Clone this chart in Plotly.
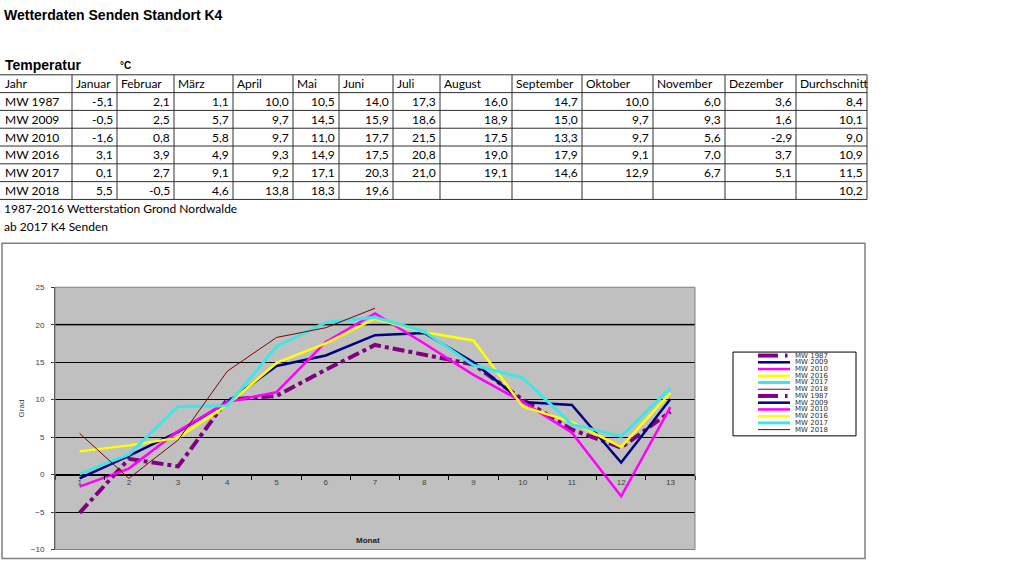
import plotly.graph_objects as go

W, H = 1024, 576

# ---------------- data ----------------
months = ["Januar", "Februar", "März", "April", "Mai", "Juni", "Juli",
          "August", "September", "Oktober", "November", "Dezember"]
header = ["Jahr"] + months + ["Durchschnitt"]
row_labels = ["MW 1987", "MW 2009", "MW 2010", "MW 2016", "MW 2017", "MW 2018"]

mw1987 = [-5.1, 2.1, 1.1, 10.0, 10.5, 14.0, 17.3, 16.0, 14.7, 10.0, 6.0, 3.6]
mw2009 = [-0.5, 2.5, 5.7, 9.7, 14.5, 15.9, 18.6, 18.9, 15.0, 9.7, 9.3, 1.6]
mw2010 = [-1.6, 0.8, 5.8, 9.7, 11.0, 17.7, 21.5, 17.5, 13.3, 9.7, 5.6, -2.9]
mw2016 = [3.1, 3.9, 4.9, 9.3, 14.9, 17.5, 20.8, 19.0, 17.9, 9.1, 7.0, 3.7]
mw2017 = [0.1, 2.7, 9.1, 9.2, 17.1, 20.3, 21.0, 19.1, 14.6, 12.9, 6.7, 5.1]
mw2018 = [5.5, -0.5, 4.6, 13.8, 18.3, 19.6, None, None, None, None, None, None]
averages = [8.4, 10.1, 9.0, 10.9, 11.5, 10.2]

# chart series: 12 months + average as 13th point
chart_x = list(range(1, 14))
chart_1987 = mw1987 + [averages[0]]
chart_2009 = mw2009 + [averages[1]]
chart_2010 = mw2010 + [averages[2]]
chart_2016 = mw2016 + [averages[3]]
chart_2017 = mw2017 + [averages[4]]
chart_2018 = [5.5, -0.5, 4.6, 13.8, 18.3, 19.6, 22.2]

y_ticks = [-10, -5, 0, 5, 10, 15, 20, 25]
x_tick_labels = [str(i) for i in chart_x]

notes = ["1987-2016 Wetterstation Grond Nordwalde", "ab 2017 K4 Senden"]


def fmt(v):
    return "" if v is None else f"{v:.1f}".replace(".", ",")


def px(x):
    return x / W


def py(y):
    yp = (y - 3) / 0.987
    return 1 - yp / H


fig = go.Figure()

# ---------------- chart ----------------
styles = [
    dict(color="#800080", width=4, dash="dashdot"),
    dict(color="#000080", width=2.5),
    dict(color="#FF00FF", width=2.5),
    dict(color="#FFFF00", width=2.5),
    dict(color="#40E6E6", width=3),
    dict(color="#800000", width=1),
]
series = [chart_1987, chart_2009, chart_2010, chart_2016, chart_2017, chart_2018]
for name, vals, st in zip(row_labels, series, styles):
    fig.add_trace(go.Scatter(x=chart_x[:len(vals)], y=vals, mode="lines",
                             name=name, line=st, showlegend=False,
                             hoverinfo="skip"))

plot_l, plot_r, plot_t, plot_b = 55, 695, 287, 550
ydom = [py(plot_b), py(plot_t)]
zero_pos = ydom[0] + (0 - (-10)) / 35 * (ydom[1] - ydom[0])

fig.update_layout(
    width=W, height=H, autosize=False,
    margin=dict(l=0, r=0, t=0, b=0),
    paper_bgcolor="white", plot_bgcolor="#C0C0C0",
    showlegend=False,
    xaxis=dict(domain=[px(plot_l), px(plot_r)], range=[0.5, 13.5],
               anchor="free", position=zero_pos,
               tickmode="array", tickvals=chart_x, ticktext=x_tick_labels,
               ticks="", showgrid=False, zeroline=False,
               showline=True, linecolor="black", linewidth=1,
               tickfont=dict(family="Liberation Sans", size=8, color="#404040"),
               minor=dict(tick0=0.5, dtick=1, ticks="outside", ticklen=4,
                          tickcolor="black", showgrid=False)),
    yaxis=dict(domain=ydom, range=[-10, 25], tickmode="array",
               tickvals=y_ticks, ticks="outside", ticklen=3,
               tickcolor="#404040", showgrid=True, gridcolor="#000000",
               gridwidth=1, zeroline=False, showline=True,
               linecolor="#404040", linewidth=1, ticklabelstandoff=5,
               tickfont=dict(family="Liberation Sans", size=8, color="#404040")),
)

shapes = []
annotations = []

# chart frame
shapes.append(dict(type="rect", xref="paper", yref="paper",
                   x0=px(2), x1=px(865), y0=py(559), y1=py(243),
                   line=dict(color="#808080", width=1.5), layer="below"))
# plot-area border (top/right grey edge)
shapes.append(dict(type="rect", xref="paper", yref="paper",
                   x0=px(plot_l), x1=px(plot_r), y0=py(plot_b), y1=py(plot_t),
                   line=dict(color="#808080", width=1)))
# grey gridline at 20 (as in reference)
shapes.append(dict(type="line", xref="x", yref="y", x0=0.5, x1=13.5, y0=20, y1=20,
                   line=dict(color="#606060", width=2), layer="below"))

annotations.append(dict(text="Grad", xref="paper", yref="paper", x=px(15), y=py(420),
                        textangle=-90, showarrow=False,
                        font=dict(family="Liberation Sans", size=8, color="#404040")))
annotations.append(dict(text="<b>Monat</b>", xref="paper", yref="paper",
                        x=px(368), y=py(547), showarrow=False,
                        font=dict(family="Liberation Sans", size=8, color="#202020")))

# manual legend
lg_l, lg_r, lg_t, lg_b = 733, 856, 352, 436
shapes.append(dict(type="rect", xref="paper", yref="paper",
                   x0=px(lg_l), x1=px(lg_r), y0=py(lg_b), y1=py(lg_t),
                   line=dict(color="black", width=1), fillcolor="white"))
legend_names = row_labels + row_labels
legend_styles = styles + styles
for i, (nm, st) in enumerate(zip(legend_names, legend_styles)):
    yy = 355.5 + 6.75 * i
    if st.get("dash") == "dashdot":
        shapes.append(dict(type="line", xref="paper", yref="paper",
                           x0=px(758), x1=px(778), y0=py(yy), y1=py(yy),
                           line=dict(color=st["color"], width=st["width"])))
        shapes.append(dict(type="line", xref="paper", yref="paper",
                           x0=px(785), x1=px(787.5), y0=py(yy), y1=py(yy),
                           line=dict(color=st["color"], width=st["width"])))
    else:
        shapes.append(dict(type="line", xref="paper", yref="paper",
                           x0=px(758), x1=px(790), y0=py(yy), y1=py(yy),
                           line=dict(color=st["color"], width=st["width"])))
    annotations.append(dict(text=nm, xref="paper", yref="paper",
                            x=px(793), y=py(yy), xanchor="left", yanchor="middle",
                            showarrow=False,
                            font=dict(family="DejaVu Sans", size=7, color="#303030")))

# ---------------- titles ----------------
annotations.append(dict(text="<b>Wetterdaten Senden Standort K4</b>", xref="paper", yref="paper",
                        x=px(2), y=py(14), xanchor="left", yanchor="middle", showarrow=False,
                        font=dict(family="Liberation Sans", size=14, color="black")))
annotations.append(dict(text="<b>Temperatur</b>", xref="paper", yref="paper",
                        x=px(3), y=py(64), xanchor="left", yanchor="middle", showarrow=False,
                        font=dict(family="Liberation Sans", size=14, color="black")))
annotations.append(dict(text="<b>°C</b>", xref="paper", yref="paper",
                        x=px(118), y=py(65), xanchor="left", yanchor="middle", showarrow=False,
                        font=dict(family="Liberation Sans", size=10, color="black")))

# ---------------- table ----------------
col_edges = [1, 72, 117, 174, 233, 293, 339, 393, 440, 512, 582, 653, 725, 796, 867]
row_top = 74
row_h = 17.85
n_rows = 1 + len(row_labels)
table_font = dict(family="Lato", size=12, color="black")

for r in range(n_rows + 1):
    yy = row_top + r * row_h
    shapes.append(dict(type="line", xref="paper", yref="paper",
                       x0=px(0), x1=px(col_edges[-1]), y0=py(yy), y1=py(yy),
                       line=dict(color="#303030", width=1)))
for e in col_edges[1:]:
    shapes.append(dict(type="line", xref="paper", yref="paper",
                       x0=px(e), x1=px(e), y0=py(row_top), y1=py(row_top + n_rows * row_h),
                       line=dict(color="#303030", width=1)))

# header
for c, txt in enumerate(header):
    annotations.append(dict(text=txt, xref="paper", yref="paper",
                            x=px(col_edges[c] + 2), y=py(row_top + row_h / 2),
                            xanchor="left", yanchor="middle", showarrow=False,
                            font=table_font))

data_rows = [mw1987, mw2009, mw2010, mw2016, mw2017, mw2018]
for r, (lab, vals, av) in enumerate(zip(row_labels, data_rows, averages)):
    yc = row_top + (r + 1.5) * row_h
    annotations.append(dict(text=lab, xref="paper", yref="paper",
                            x=px(col_edges[0] + 2), y=py(yc),
                            xanchor="left", yanchor="middle", showarrow=False,
                            font=table_font))
    cells = vals + [av]
    for c, v in enumerate(cells):
        t = fmt(v)
        if not t:
            continue
        annotations.append(dict(text=t, xref="paper", yref="paper",
                                x=px(col_edges[c + 2] - 2), y=py(yc),
                                xanchor="right", yanchor="middle", showarrow=False,
                                font=table_font))

for i, n in enumerate(notes):
    annotations.append(dict(text=n, xref="paper", yref="paper",
                            x=px(2), y=py(208 + 18 * i), xanchor="left", yanchor="middle",
                            showarrow=False, font=table_font))

fig.update_layout(shapes=shapes, annotations=annotations)

fig.write_html("out.html",
               config={"displayModeBar": False},
               post_script="document.body.style.margin='0';document.body.style.overflow='hidden';")
